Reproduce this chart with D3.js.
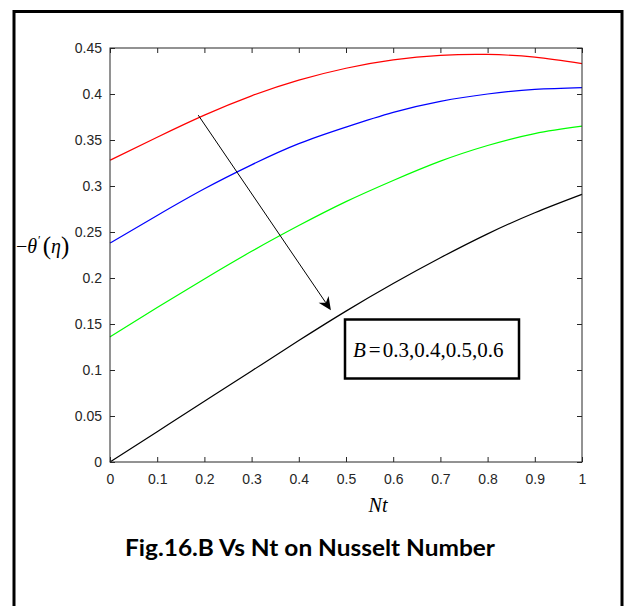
<!DOCTYPE html>
<html>
<head>
<meta charset="utf-8">
<script src="https://cdn.jsdelivr.net/npm/d3@7"></script>
<style>
  body { margin: 0; background: #fff; }
  svg { display: block; }
</style>
</head>
<body>
<div id="app"></div>
<script>
// values
const nt = [0, 0.1, 0.2, 0.3, 0.4, 0.5, 0.6, 0.7, 0.8, 0.9, 1.0]
const b03 = [0.328, 0.353, 0.377, 0.398, 0.415, 0.428, 0.437, 0.442, 0.443, 0.440, 0.433]
const b04 = [0.238, 0.268, 0.297, 0.323, 0.346, 0.364, 0.380, 0.392, 0.400, 0.405, 0.407]
const b05 = [0.136, 0.168, 0.199, 0.229, 0.257, 0.283, 0.306, 0.327, 0.344, 0.357, 0.365]
const b06 = [0.000, 0.033, 0.066, 0.099, 0.132, 0.164, 0.194, 0.222, 0.248, 0.271, 0.291]
const seriesColors = ['#ff0000', '#0000ff', '#00ff00', '#000000']
const xTicks = [0, 0.1, 0.2, 0.3, 0.4, 0.5, 0.6, 0.7, 0.8, 0.9, 1]
const yTicks = [0, 0.05, 0.1, 0.15, 0.2, 0.25, 0.3, 0.35, 0.4, 0.45]
// arrow annotation, in data units
const arrowFrom = [0.187, 0.377]
const arrowTo = [0.468, 0.165]

const W = 630, H = 606
const svg = d3.select('#app').append('svg')
  .attr('width', W)
  .attr('height', H)

// outer frame
svg.append('rect')
  .attr('x', 14).attr('y', 11.5)
  .attr('width', 608).attr('height', 640)
  .attr('fill', 'none')
  .attr('stroke', '#000')
  .attr('stroke-width', 3)

const x = d3.scaleLinear().domain([0, 1]).range([110, 582])
const y = d3.scaleLinear().domain([0, 0.45]).range([462, 48])

const axisColor = '#262626'
const tickFont = '"Liberation Sans", Arial, Helvetica, sans-serif'
const serif = '"Liberation Serif", "Times New Roman", serif'

const g = svg.append('g')

// curves
const line = d3.line()
  .x((d, i) => x(nt[i]))
  .y(d => y(d))
  .curve(d3.curveNatural)

g.selectAll('path.curve')
  .data([b03, b04, b05, b06])
  .enter().append('path')
  .attr('class', 'curve')
  .attr('d', line)
  .attr('fill', 'none')
  .attr('stroke', (d, i) => seriesColors[i])
  .attr('stroke-width', 1.2)

// axes, ticks inside like matlab
function styleAxis(sel) {
  sel.attr('font-family', null).attr('font-size', null)
  sel.select('.domain').remove()
  sel.selectAll('line').attr('stroke', axisColor)
  sel.selectAll('text')
    .attr('fill', axisColor)
    .style('font-family', tickFont)
    .style('font-size', '14px')
}

g.append('g')
  .attr('transform', `translate(0,${y(0)})`)
  .call(d3.axisBottom(x).tickValues(xTicks).tickFormat(d3.format('~g'))
    .tickSizeInner(-5).tickSizeOuter(0).tickPadding(12))
  .call(styleAxis)

g.append('g')
  .attr('transform', `translate(0,${y(0.45)})`)
  .call(d3.axisTop(x).tickValues(xTicks).tickFormat('')
    .tickSizeInner(-5).tickSizeOuter(0))
  .call(styleAxis)

g.append('g')
  .attr('transform', `translate(${x(0)},0)`)
  .call(d3.axisLeft(y).tickValues(yTicks).tickFormat(d3.format('~g'))
    .tickSizeInner(-5).tickSizeOuter(0).tickPadding(8))
  .call(styleAxis)

g.append('g')
  .attr('transform', `translate(${x(1)},0)`)
  .call(d3.axisRight(y).tickValues(yTicks).tickFormat('')
    .tickSizeInner(-5).tickSizeOuter(0))
  .call(styleAxis)

g.append('rect')
  .attr('x', x(0)).attr('y', y(0.45))
  .attr('width', x(1) - x(0)).attr('height', y(0) - y(0.45))
  .attr('fill', 'none')
  .attr('stroke', axisColor)
  .attr('stroke-width', 1)

// arrow
const x1 = x(arrowFrom[0]), y1 = y(arrowFrom[1])
const x2 = x(arrowTo[0]), y2 = y(arrowTo[1])
const ang = Math.atan2(y2 - y1, x2 - x1)
const headLen = 13, headW = 6, notch = 4
g.append('line')
  .attr('x1', x1).attr('y1', y1)
  .attr('x2', x2 - Math.cos(ang) * (headLen - notch))
  .attr('y2', y2 - Math.sin(ang) * (headLen - notch))
  .attr('stroke', '#000')
  .attr('stroke-width', 1)

const rot = (px, py) => [x2 + px * Math.cos(ang) - py * Math.sin(ang), y2 + px * Math.sin(ang) + py * Math.cos(ang)]
g.append('path')
  .attr('d', d3.line()([rot(0, 0), rot(-headLen, -headW), rot(-headLen + notch, 0), rot(-headLen, headW)]) + 'Z')
  .attr('fill', '#000')

// legend box
g.append('rect')
  .attr('x', 345).attr('y', 319.5)
  .attr('width', 174).attr('height', 59)
  .attr('fill', '#fff')
  .attr('stroke', '#000')
  .attr('stroke-width', 2.5)

const lt = g.append('text')
  .attr('x', 353).attr('y', 357)
  .style('font-family', serif)
  .style('font-size', '21px')
lt.append('tspan').style('font-style', 'italic').text('B')
lt.append('tspan').attr('dx', 3).text('=')
lt.append('tspan').attr('dx', 2).text('0.3,0.4,0.5,0.6')

// axis labels
svg.append('text')
  .attr('x', 378).attr('y', 512)
  .attr('text-anchor', 'middle')
  .style('font-family', serif)
  .style('font-style', 'italic')
  .style('font-size', '20px')
  .text('Nt')

const yl = svg.append('text')
  .attr('x', 16).attr('y', 253)
  .style('font-family', serif)
  .style('font-size', '20px')
yl.append('tspan').text('−')
yl.append('tspan').style('font-style', 'italic').text('θ')
yl.append('tspan').attr('dy', -9).attr('dx', 1).style('font-size', '12px').text('′')
yl.append('tspan').attr('dy', 10).attr('dx', 2).style('font-size', '25px').text('(')
yl.append('tspan').attr('dy', -1).style('font-style', 'italic').text('η')
yl.append('tspan').attr('dy', 1).style('font-size', '25px').text(')')

// caption
svg.append('text')
  .attr('x', 310).attr('y', 556)
  .attr('text-anchor', 'middle')
  .attr('textLength', 370)
  .attr('lengthAdjust', 'spacingAndGlyphs')
  .style('font-family', 'Lato, "Open Sans", sans-serif')
  .style('font-weight', 'bold')
  .style('font-size', '23px')
  .text('Fig.16.B Vs Nt on Nusselt Number')
</script>
</body>
</html>
